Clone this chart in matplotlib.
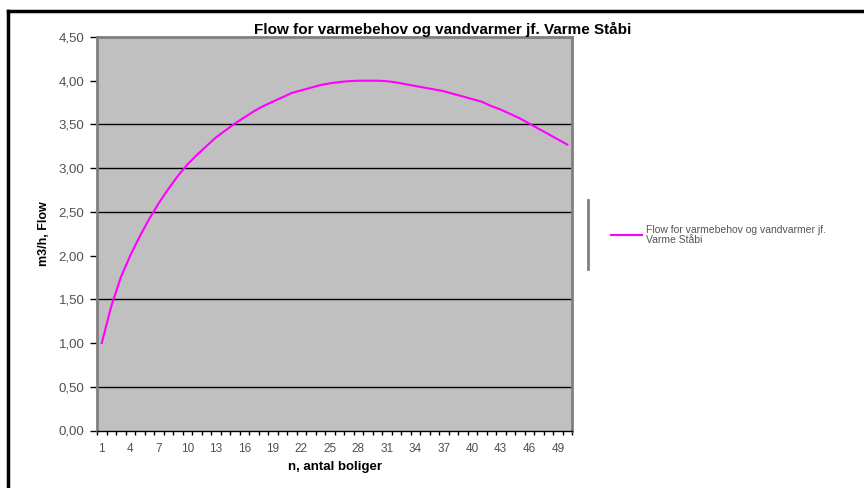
import numpy as np
import matplotlib
matplotlib.use("Agg")
import matplotlib.pyplot as plt
from matplotlib.lines import Line2D
from matplotlib.ticker import FuncFormatter, FixedLocator

'''
Flow for varmebehov og vandvarmer jf. Varme Staabi (Excel-style line chart).
'''
# number of dwellings (categories) and flow in m3/h
boliger = list(range(1, 51))
flow = [1.00, 1.42, 1.75, 2.00, 2.22, 2.42, 2.60, 2.76, 2.91, 3.04,
        3.15, 3.25, 3.35, 3.43, 3.51, 3.58, 3.65, 3.71, 3.76, 3.81,
        3.86, 3.89, 3.92, 3.95, 3.97, 3.985, 3.995, 4.00, 4.00, 4.00,
        3.995, 3.98, 3.96, 3.94, 3.92, 3.90, 3.88, 3.85, 3.82, 3.79,
        3.76, 3.71, 3.67, 3.62, 3.57, 3.51, 3.45, 3.39, 3.33, 3.27]
x_labels = [str(n) for n in boliger[::3]]
y_ticks = [0.0, 0.5, 1.0, 1.5, 2.0, 2.5, 3.0, 3.5, 4.0, 4.5]
grid_levels = [0.5, 1.5, 2.5, 3.0, 3.5]  # the lines that show in the picture

title = 'Flow for varmebehov og vandvarmer jf. Varme Ståbi'
series_name = 'Flow for varmebehov og vandvarmer jf.\nVarme Ståbi'

plt.rcParams['font.family'] = ['Liberation Sans', 'DejaVu Sans']

fig = plt.figure(figsize=(8.64, 4.88), dpi=100)
W, H = 864.0, 488.0
ax = fig.add_axes([97 / W, 1 - 430.5 / H, 475 / W, 393.5 / H])
ax.set_facecolor('#C0C0C0')

for lev in grid_levels:
    ax.axhline(lev, color='black', linewidth=1.0, zorder=1)

ax.plot(boliger, flow, color='#FF00FF', linewidth=1.5, zorder=3, label=series_name)

ax.set_xlim(0.5, 50.5)
ax.set_ylim(0, 4.5)

# x axis: labels every third category, small ticks between categories
ax.xaxis.set_major_locator(FixedLocator(boliger[::3]))
ax.set_xticklabels(x_labels)
ax.xaxis.set_minor_locator(FixedLocator(np.arange(0.5, 51, 1.0)))
ax.tick_params(axis='x', which='major', length=0, pad=9, labelsize=8.5, labelcolor='#505050')
ax.tick_params(axis='x', which='minor', length=3, width=1, color='black', direction='out')

ax.set_yticks(y_ticks)
ax.yaxis.set_major_formatter(FuncFormatter(lambda v, p: ('%.2f' % v).replace('.', ',')))
ax.tick_params(axis='y', length=5, width=1, color='black', direction='out', pad=4,
               labelsize=9.5, labelcolor='#505050')

for side in ['left', 'right', 'top']:
    ax.spines[side].set_color('#808080')
    ax.spines[side].set_linewidth(2)
ax.spines['bottom'].set_color('black')
ax.spines['bottom'].set_linewidth(1)

ax.set_xlabel('n, antal boliger', fontsize=9.5, fontweight='bold', labelpad=4)
ax.set_ylabel('m3/h, Flow', fontsize=9, fontweight='bold', labelpad=6)

fig.text(443 / W, 1 - 29 / H, title, ha='center', va='center',
         fontsize=11, fontweight='bold')

# legend on the right
leg = ax.legend(loc='center left', bbox_to_anchor=(607 / W, 1 - 235 / H),
                bbox_transform=fig.transFigure, frameon=False, fontsize=7.5,
                handlelength=3.0, handletextpad=0.3, borderaxespad=0,
                labelspacing=0.2)
for t in leg.get_texts():
    t.set_color('#555555')
    t.set_linespacing(1.0)
fig.add_artist(Line2D([588 / W, 588 / W], [1 - 200 / H, 1 - 269 / H],
                      color='#808080', linewidth=2))

# chart area border (top and left visible)
fig.add_artist(Line2D([8 / W, 8 / W], [0, 1 - 11 / H], color='black', linewidth=2.5))
fig.add_artist(Line2D([8 / W, 1], [1 - 11 / H, 1 - 11 / H], color='black', linewidth=2.5))

fig.savefig('out.png', dpi=100)
